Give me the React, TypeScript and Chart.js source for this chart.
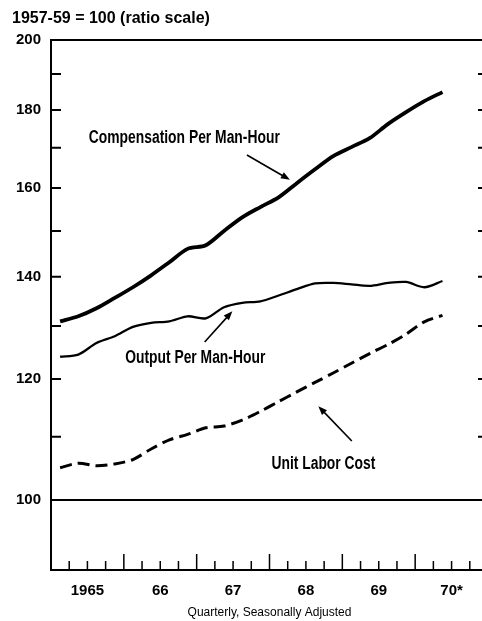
import React, { useEffect, useRef } from "react";
import { Chart, registerables } from "chart.js";

Chart.register(...registerables);

// ---- Data ----
const QUARTERS = [
  "1965 Q1", "1965 Q2", "1965 Q3", "1965 Q4",
  "1966 Q1", "1966 Q2", "1966 Q3", "1966 Q4",
  "1967 Q1", "1967 Q2", "1967 Q3", "1967 Q4",
  "1968 Q1", "1968 Q2", "1968 Q3", "1968 Q4",
  "1969 Q1", "1969 Q2", "1969 Q3", "1969 Q4",
  "1970 Q1", "1970 Q2",
];

const COMPENSATION_PER_MAN_HOUR = [
  130.9, 131.9, 133.5, 135.6, 137.8, 140.3, 143.1, 146.0, 146.8, 150.0, 153.1,
  155.5, 157.8, 161.2, 164.6, 167.9, 170.2, 172.5, 176.2, 179.4, 182.4, 184.9,
];

const OUTPUT_PER_MAN_HOUR = [
  124.1, 124.5, 126.7, 128.0, 129.8, 130.6, 130.9, 131.9, 131.5, 133.7, 134.6,
  134.9, 136.1, 137.4, 138.6, 138.7, 138.4, 138.1, 138.7, 138.9, 137.8, 139.1,
];

const UNIT_LABOR_COST = [
  105.0, 105.7, 105.3, 105.6, 106.3, 108.0, 109.5, 110.4, 111.5, 111.8, 112.8,
  114.3, 116.0, 117.7, 119.4, 121.1, 122.9, 124.7, 126.4, 128.4, 130.8, 132.1,
];

const YEARS = [1965, 1966, 1967, 1968, 1969, 1970];
const YEAR_LABELS = ["1965", "66", "67", "68", "69", "70*"];
const Y_TICK_VALUES = [90, 100, 110, 120, 130, 140, 150, 160, 170, 180, 190, 200];
const Y_TICK_LABELS = [100, 120, 140, 160, 180, 200];

const TOP_NOTE = "1957-59 = 100 (ratio scale)";
const X_TITLE = "Quarterly, Seasonally Adjusted";

// annotation labels in data coordinates (year, index value)
const ANNOTATIONS = [
  { text: "Compensation Per Man-Hour", x: 1966.83, y: 172.6, from: [1967.69, 168.2], to: [1968.28, 162.0] },
  { text: "Output Per Man-Hour", x: 1966.98, y: 123.8, from: [1967.11, 126.9], to: [1967.49, 132.9] },
  { text: "Unit Labor Cost", x: 1968.74, y: 105.6, from: [1969.13, 109.3], to: [1968.67, 115.2] },
];

const quarterPos = (q: string) => {
  const [yr, qq] = q.split(" Q");
  return Number(yr) + (Number(qq) - 0.5) / 4;
};
const toPoints = (vals: number[]) => vals.map((v, i) => ({ x: quarterPos(QUARTERS[i]), y: v }));

const BOLD_FONT = '"Liberation Sans", Arial, sans-serif';
const LABEL_STRETCH = 0.77;

const framePlugin = {
  id: "frame",
  beforeDatasetsDraw(chart: any) {
    const { ctx, chartArea, scales } = chart;
    const { left, right, top, bottom } = chartArea;
    const x = scales.x;
    const y = scales.y;
    ctx.save();
    ctx.strokeStyle = "#000";
    ctx.lineWidth = 2;
    ctx.beginPath();
    ctx.moveTo(left - 1, top);
    ctx.lineTo(right, top);
    ctx.moveTo(right, top);
    ctx.lineTo(right, bottom);
    const y100 = y.getPixelForValue(100);
    ctx.moveTo(left, y100);
    ctx.lineTo(right, y100);
    for (const v of Y_TICK_VALUES) {
      const py = y.getPixelForValue(v);
      ctx.moveTo(left, py);
      ctx.lineTo(left + 10, py);
      ctx.moveTo(right - 10, py);
      ctx.lineTo(right, py);
    }
    ctx.stroke();
    ctx.lineWidth = 1.5;
    ctx.beginPath();
    for (const yr of YEARS) {
      for (let q = 0; q < 4; q++) {
        const val = yr + q / 4;
        if (val === YEARS[0]) continue;
        const len = q === 0 ? 16 : 9;
        const px = x.getPixelForValue(val);
        ctx.moveTo(px, bottom);
        ctx.lineTo(px, bottom - len);
      }
    }
    ctx.stroke();
    ctx.restore();
  },
  afterDraw(chart: any) {
    const { ctx, scales } = chart;
    const x = scales.x;
    const y = scales.y;
    ctx.save();
    ctx.fillStyle = "#000";
    ctx.strokeStyle = "#000";
    ctx.font = `bold 16px ${BOLD_FONT}`;
    ctx.textAlign = "left";
    ctx.textBaseline = "middle";
    ctx.fillText(TOP_NOTE, 12, 19);

    ctx.font = `bold 18px ${BOLD_FONT}`;
    ctx.textAlign = "center";
    for (const a of ANNOTATIONS) {
      ctx.save();
      ctx.translate(x.getPixelForValue(a.x), y.getPixelForValue(a.y));
      ctx.scale(LABEL_STRETCH, 1);
      ctx.fillText(a.text, 0, 0);
      ctx.restore();
      const x1 = x.getPixelForValue(a.from[0]);
      const y1 = y.getPixelForValue(a.from[1]);
      const x2 = x.getPixelForValue(a.to[0]);
      const y2 = y.getPixelForValue(a.to[1]);
      const ang = Math.atan2(y2 - y1, x2 - x1);
      const hl = 9;
      const hw = 3.5;
      ctx.lineWidth = 1.6;
      ctx.beginPath();
      ctx.moveTo(x1, y1);
      ctx.lineTo(x2 - Math.cos(ang) * hl * 0.8, y2 - Math.sin(ang) * hl * 0.8);
      ctx.stroke();
      ctx.beginPath();
      ctx.moveTo(x2, y2);
      ctx.lineTo(x2 - Math.cos(ang) * hl - Math.sin(ang) * hw, y2 - Math.sin(ang) * hl + Math.cos(ang) * hw);
      ctx.lineTo(x2 - Math.cos(ang) * hl + Math.sin(ang) * hw, y2 - Math.sin(ang) * hl - Math.cos(ang) * hw);
      ctx.closePath();
      ctx.fill();
    }
    ctx.restore();
  },
};

export default function App() {
  const canvasRef = useRef<HTMLCanvasElement | null>(null);

  useEffect(() => {
    if (!canvasRef.current) return;
    const chart = new Chart(canvasRef.current, {
      type: "line",
      data: {
        datasets: [
          {
            label: "Compensation Per Man-Hour",
            data: toPoints(COMPENSATION_PER_MAN_HOUR),
            borderColor: "#000",
            borderWidth: 3.8,
            pointRadius: 0,
            tension: 0.3,
            fill: false,
          },
          {
            label: "Output Per Man-Hour",
            data: toPoints(OUTPUT_PER_MAN_HOUR),
            borderColor: "#000",
            borderWidth: 2.3,
            pointRadius: 0,
            tension: 0.3,
            fill: false,
          },
          {
            label: "Unit Labor Cost",
            data: toPoints(UNIT_LABOR_COST),
            borderColor: "#000",
            borderWidth: 3,
            borderDash: [12, 6],
            pointRadius: 0,
            tension: 0.3,
            fill: false,
          },
        ],
      },
      options: {
        animation: false,
        responsive: false,
        devicePixelRatio: 1,
        layout: { padding: { top: 40, right: 2, left: 0, bottom: 0 } },
        plugins: { legend: { display: false }, tooltip: { enabled: false }, title: { display: false } },
        scales: {
          x: {
            type: "linear",
            min: 1965,
            max: 1971,
            grid: { display: false, drawTicks: false },
            border: { display: true, width: 2, color: "#000" },
            afterBuildTicks: (s: any) => {
              s.ticks = YEARS.map((yr) => ({ value: yr + 0.5 }));
            },
            afterFit: (s: any) => {
              s.height = 51;
            },
            ticks: {
              autoSkip: false,
              maxRotation: 0,
              padding: 12,
              color: "#000",
              font: { family: BOLD_FONT, size: 15, weight: "bold" },
              callback: (_v: any, i: number) => YEAR_LABELS[i],
            },
            title: {
              display: true,
              text: X_TITLE,
              color: "#000",
              font: { family: BOLD_FONT, size: 12, weight: "normal" },
              padding: { top: 0, bottom: 1 },
            },
          },
          y: {
            type: "logarithmic",
            min: 90,
            max: 200,
            grid: { display: false, drawTicks: false },
            border: { display: true, width: 2, color: "#000" },
            afterBuildTicks: (s: any) => {
              s.ticks = Y_TICK_VALUES.map((v) => ({ value: v }));
            },
            afterFit: (s: any) => {
              s.width = 51;
            },
            ticks: {
              autoSkip: false,
              padding: 10,
              color: "#000",
              font: { family: BOLD_FONT, size: 15, weight: "bold" },
              callback: (v: any) => (Y_TICK_LABELS.includes(Number(v)) ? String(v) : ""),
            },
          },
        },
      },
      plugins: [framePlugin],
    } as any);
    return () => chart.destroy();
  }, []);

  return (
    <div
      style={{
        position: "fixed",
        left: 0,
        top: 0,
        width: 482,
        height: 621,
        overflow: "hidden",
        background: "#fff",
      }}
    >
      <canvas ref={canvasRef} width={490} height={621} style={{ display: "block" }} />
    </div>
  );
}
